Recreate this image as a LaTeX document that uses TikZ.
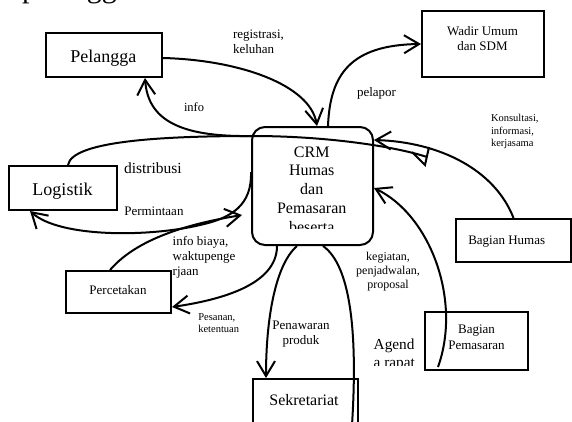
\documentclass[tikz,border=0pt]{standalone}
\usepackage{fontspec}
\setmainfont{Liberation Serif}
\usetikzlibrary{arrows.meta}
\newcommand\fsz[2]{\fontsize{#1}{#2}\selectfont}

\begin{document}
\begin{tikzpicture}[x=1pt,y=-1pt,line width=2pt,
  entity/.style={draw,line width=2pt,inner sep=0pt,rectangle},
  txt/.style={inner sep=0pt,anchor=base,align=center},
  lbl/.style={inner sep=0pt,anchor=base west,align=left},
  clbl/.style={inner sep=0pt,anchor=base,align=center},
  flow/.style={-{Straight Barb[length=15pt,width=18pt]}}]
\useasboundingbox[fill=white] (0,0) rectangle (572,421);
\begin{scope}
\clip (0,0) rectangle (572,421);

% heading cut off at the top edge
\node[anchor=base west,inner sep=0pt,font=\fsz{30}{32}] (capT) at (21,-2.5) {pelanggan};

% external entities
\node[entity,minimum width=116pt,minimum height=44pt] (pel) at (104,55) {};
\node[entity,minimum width=122pt,minimum height=66pt] (wad) at (483,44) {};
\node[entity,minimum width=108pt,minimum height=44pt] (log) at (63,188) {};
\node[entity,minimum width=115pt,minimum height=43pt] (hum) at (513.5,240.5) {};
\node[entity,minimum width=103pt,minimum height=58pt] (pms) at (476.5,341) {};
\node[entity,minimum width=105pt,minimum height=42pt] (perc) at (118.5,292) {};
\node[entity,minimum width=105pt,minimum height=53pt] (sek) at (305.5,405.5) {};
% central process
\node[entity,rounded corners=13pt,minimum width=121pt,minimum height=118pt] (crm) at (312.5,186) {};

% entity names (multi-line nodes sit on the baseline of their last line)
\node[txt,font=\fsz{18}{20}] (pelT) at (103.3,62.7) {Pelangga};
\node[txt,font=\fsz{13}{15}] (wadT) at (482.5,50) {Wadir Umum\\dan SDM};
\node[txt,font=\fsz{18}{20}] (logT) at (62.5,195) {Logistik};
\node[txt,font=\fsz{13}{15}] (humT) at (506.7,244) {Bagian Humas};
\node[txt,font=\fsz{13}{16}] (pmsT) at (476.5,349) {Bagian\\Pemasaran};
\node[txt,font=\fsz{13}{15}] (percT) at (118,294.3) {Percetakan};
\node[txt,font=\fsz{16}{18}] (sekT) at (304,405) {Sekretariat};
\begin{scope}
\clip (250,120) rectangle (380,228);
\node[txt,font=\fsz{16}{18.7}] (crmT) at (311.7,232) {CRM\\Humas\\dan\\Pemasaran\\beserta};
\end{scope}

% data flows
\coordinate (dend) at (427,157);
\coordinate (pstart) at (438,367);
\coordinate (sbot) at (352,425);

\draw[flow] ([yshift=-3pt]pel.east) .. controls (240,60) and (310,85) .. ([xshift=4.5pt]crm.north);
\draw[flow] ([xshift=15.5pt]crm.north) .. controls (330,75) and (350,45) .. (wad.west);
\draw[flow] ([yshift=50pt]crm.west) .. controls (180,137) and (148,120) .. ([xshift=41pt]pel.south);
\draw ([xshift=5pt]log.north) .. controls (72,140) and (170,136) .. (253,136)
      .. controls (320,136) and (390,145) .. (dend);
\draw[line join=miter] ([shift={(-15,-5)}]dend) -- ([shift={(-2,8)}]dend) -- ([shift={(2,-10)}]dend);
\draw[flow] (hum.north) .. controls (495,170) and (440,142) .. ([yshift=46pt]crm.east);
\draw[flow] (pstart) .. controls (462,300) and (430,215) .. ([yshift=-2pt]crm.east);
\draw[flow] ([xshift=-15.5pt]crm.south) .. controls (275,265) and (266,320) .. ([xshift=-39.5pt]sek.north);
\draw (sbot) .. controls (358,330) and (350,265) .. ([xshift=10.5pt]crm.south);
\draw[flow] ([yshift=14pt]crm.west) .. controls (252,205) and (232,218) .. (200,225)
      .. controls (150,237) and (60,238) .. ([xshift=-33pt]log.south);
\draw[flow] ([xshift=-8.5pt]perc.north) .. controls (140,235) and (200,222) .. ([xshift=-9pt,yshift=-29pt]crm.west);
\draw[flow] ([xshift=-35.5pt]crm.south) .. controls (277,285) and (220,300) .. ([yshift=-15pt]perc.east);

% flow labels
\node[lbl,font=\fsz{13}{15.5}] (regL) at (232,53.5) {registrasi,\\keluhan};
\node[lbl,font=\fsz{12.5}{14}] (infoL) at (183,111) {info};
\node[lbl,font=\fsz{13}{15}] (lapL) at (356,96.7) {pelapor};
\node[lbl,font=\fsz{10.5}{12.5}] (konL) at (490,146.7) {Konsultasi,\\informasi,\\kerjasama};
\node[lbl,font=\fsz{15.5}{17}] (disL) at (123,173) {distribusi};
\node[lbl,font=\fsz{13}{15}] (minL) at (123.3,215) {Permintaan};
\node[lbl,font=\fsz{13}{15}] (biaL) at (171.7,275.7) {info biaya,\\waktupenge\\rjaan};
\node[lbl,font=\fsz{10.5}{12}] (pesL) at (197.3,332.3) {Pesanan,\\ketentuan};
\node[clbl,font=\fsz{13}{14.7}] (tawL) at (301,344) {Penawaran\\produk};
\node[clbl,font=\fsz{12}{14.3}] (kegL) at (388,288.6) {kegiatan,\\penjadwalan,\\proposal};
\begin{scope}
\clip (360,330) rectangle (420,365.5);
\node[lbl,font=\fsz{15.3}{18.3}] (agL) at (372.7,367.3) {Agend\\a rapat};
\end{scope}
\end{scope}
\end{tikzpicture}
\end{document}
